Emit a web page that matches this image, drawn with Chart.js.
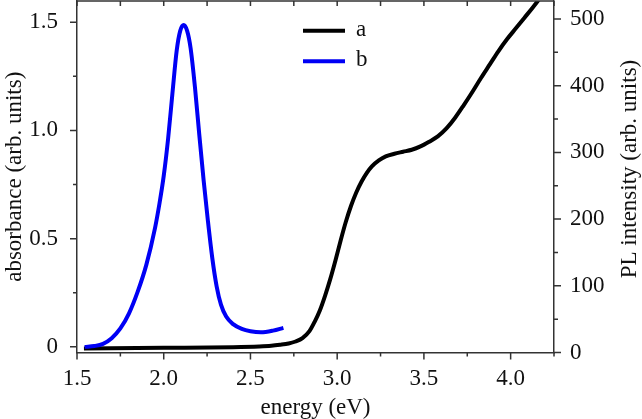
<!DOCTYPE html>
<html>
<head>
<meta charset="utf-8">
<script src="https://cdn.jsdelivr.net/npm/chart.js@4.4.0/dist/chart.umd.min.js"></script>
<style>
  html, body { margin: 0; padding: 0; background: #fff; }
  #wrap { width: 642px; height: 419px; }
</style>
</head>
<body>
<div id="wrap"><canvas id="myChart" width="642" height="419"></canvas></div>
<script>
// curve a (black, right axis)
const energyA = [1.54, 2.0, 2.4, 2.55, 2.62, 2.67, 2.72, 2.76, 2.8, 2.84, 2.87, 2.9, 2.93, 2.96, 2.99, 3.02, 3.05, 3.08, 3.11, 3.14, 3.17, 3.2, 3.24, 3.28, 3.33, 3.38, 3.43, 3.48, 3.53, 3.58, 3.63, 3.68, 3.73, 3.78, 3.83, 3.88, 3.93, 3.98, 4.03, 4.08, 4.13, 4.18, 4.23];
const plA = [6, 7, 8, 9, 10, 11.5, 13.5, 16.5, 21.5, 32, 46, 63, 85, 110, 138, 168, 196, 220, 240, 256, 269, 279, 288, 294, 298, 301, 304, 309, 316, 324, 336, 352, 371, 391, 412, 432, 452, 470, 486, 502, 518, 535, 552];

// curve b (blue, left axis)
const energyB = [1.544, 1.6, 1.65, 1.7, 1.75, 1.8, 1.85, 1.9, 1.95, 1.975, 2.0, 2.025, 2.05, 2.075, 2.095, 2.115, 2.135, 2.155, 2.18, 2.205, 2.23, 2.255, 2.28, 2.305, 2.33, 2.36, 2.4, 2.45, 2.5, 2.56, 2.63, 2.69];
const absB = [0.0, 0.004, 0.014, 0.04, 0.085, 0.155, 0.255, 0.38, 0.55, 0.66, 0.79, 0.96, 1.17, 1.37, 1.46, 1.487, 1.46, 1.38, 1.2, 0.98, 0.77, 0.58, 0.41, 0.28, 0.195, 0.14, 0.105, 0.083, 0.072, 0.067, 0.075, 0.088];

const xTicks = [1.5, 2.0, 2.5, 3.0, 3.5, 4.0];
const xMinor = [1.75, 2.25, 2.75, 3.25, 3.75, 4.25];
const leftTicks = [0, 0.5, 1.0, 1.5];
const leftMinor = [0.25, 0.75, 1.25];
const rightTicks = [0, 100, 200, 300, 400, 500];
const rightMinor = [50, 150, 250, 350, 450];

const FONT = 'Liberation Serif';
const AXIS = '#333';

const zip = (xs, ys) => xs.map((v, i) => ({x: v, y: ys[i]}));

function noPad(s) {
  s.paddingTop = 0;
  s.paddingBottom = 0;
  s.paddingLeft = 0;
  s.paddingRight = 0;
}

// frame: top border, tick marks, right title, legend
const frame = {
  id: 'frame',
  afterDraw(chart) {
    const {ctx, chartArea: a, scales} = chart;
    const {x, y, y2} = scales;
    ctx.save();
    ctx.strokeStyle = AXIS;
    ctx.lineWidth = 1.5;
    ctx.beginPath();
    ctx.moveTo(a.left, a.top);
    ctx.lineTo(a.right, a.top);

    xTicks.concat(xMinor).forEach(v => {
      const px = x.getPixelForValue(v);
      const len = xTicks.includes(v) ? 7 : 4;
      ctx.moveTo(px, a.bottom);
      ctx.lineTo(px, a.bottom + len);
      ctx.moveTo(px, a.top);
      ctx.lineTo(px, a.top + 5);
    });
    leftTicks.concat(leftMinor).forEach(v => {
      const py = y.getPixelForValue(v);
      const len = leftTicks.includes(v) ? 7 : 4;
      ctx.moveTo(a.left - len, py);
      ctx.lineTo(a.left, py);
    });
    rightTicks.concat(rightMinor).forEach(v => {
      const py = y2.getPixelForValue(v);
      const len = rightTicks.includes(v) ? 7 : 4;
      ctx.moveTo(a.right, py);
      ctx.lineTo(a.right + len, py);
    });
    ctx.stroke();

    // right axis title, reading upward
    ctx.fillStyle = '#111';
    ctx.font = '23px "' + FONT + '"';
    ctx.textAlign = 'center';
    ctx.textBaseline = 'middle';
    ctx.save();
    ctx.translate(630, 169);
    ctx.rotate(-Math.PI / 2);
    ctx.fillText('PL intensity (arb. units)', 0, 0);
    ctx.restore();

    // legend
    ctx.textAlign = 'left';
    ctx.textBaseline = 'alphabetic';
    chart.data.datasets.forEach((ds, i) => {
      const ly = 30.7 + i * 30.5;
      ctx.strokeStyle = ds.borderColor;
      ctx.lineWidth = 4;
      ctx.beginPath();
      ctx.moveTo(303, ly);
      ctx.lineTo(345, ly);
      ctx.stroke();
      ctx.fillText(ds.label, 356, ly + 5);
    });
    ctx.restore();
  }
};

new Chart('myChart', {
  type: 'line',
  data: {
    datasets: [
      {
        label: 'a',
        data: zip(energyA, plA),
        yAxisID: 'y2',
        borderColor: '#000',
        borderWidth: 4,
        pointRadius: 0,
        cubicInterpolationMode: 'monotone',
        order: 2
      },
      {
        label: 'b',
        data: zip(energyB, absB),
        yAxisID: 'y',
        borderColor: 'rgb(0,0,245)',
        borderWidth: 4,
        pointRadius: 0,
        cubicInterpolationMode: 'monotone',
        order: 1
      }
    ]
  },
  options: {
    responsive: false,
    animation: false,
    devicePixelRatio: 1,
    layout: { padding: { top: 1, right: 0, bottom: 0, left: 0 } },
    plugins: { legend: { display: false }, tooltip: { enabled: false } },
    scales: {
      x: {
        type: 'linear',
        min: 1.5,
        max: 4.25,
        afterBuildTicks: s => { s.ticks = xTicks.map(v => ({value: v})); },
        afterFit: s => { s.height = 66.5; noPad(s); },
        ticks: {
          font: { family: FONT, size: 23 },
          color: '#111',
          padding: 13,
          maxRotation: 0,
          callback: v => v.toFixed(1)
        },
        grid: { drawOnChartArea: false, drawTicks: false },
        border: { color: AXIS, width: 1.5 },
        title: {
          display: true,
          text: 'energy (eV)',
          font: { family: FONT, size: 23, lineHeight: 1 },
          color: '#111',
          padding: 0
        }
      },
      y: {
        position: 'left',
        min: -0.026,
        max: 1.598,
        afterBuildTicks: s => { s.ticks = leftTicks.map(v => ({value: v})); },
        afterFit: s => { s.width = 77; noPad(s); },
        ticks: {
          font: { family: FONT, size: 23 },
          color: '#111',
          padding: 19,
          callback: v => v === 0 ? '0' : v.toFixed(1)
        },
        grid: { drawOnChartArea: false, drawTicks: false },
        border: { color: AXIS, width: 1.5 },
        title: {
          display: true,
          text: 'absorbance (arb. units)',
          font: { family: FONT, size: 23, lineHeight: 1 },
          color: '#111',
          padding: { top: 3.5, bottom: 0 }
        }
      },
      y2: {
        position: 'right',
        min: 0,
        max: 527,
        afterBuildTicks: s => { s.ticks = rightTicks.map(v => ({value: v})); },
        afterFit: s => { s.width = 88; noPad(s); },
        ticks: {
          font: { family: FONT, size: 23 },
          color: '#111',
          padding: 16,
          callback: v => String(v)
        },
        grid: { drawOnChartArea: false, drawTicks: false },
        border: { color: AXIS, width: 1.5 }
      }
    }
  },
  plugins: [frame]
});
</script>
</body>
</html>
